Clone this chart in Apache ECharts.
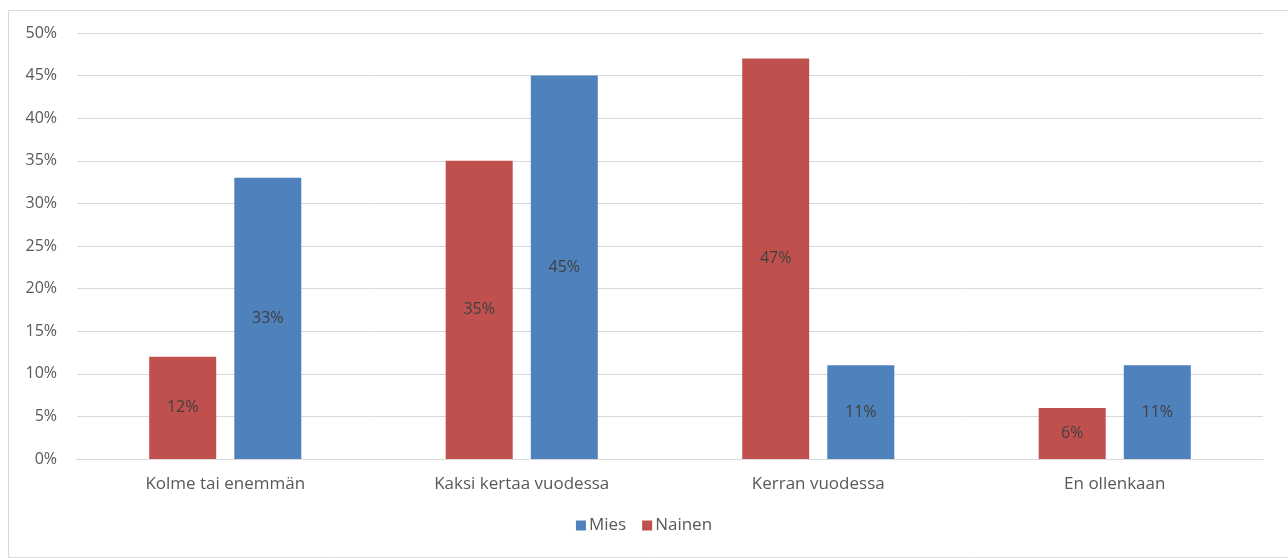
<!DOCTYPE html>
<html>
<head>
<meta charset="utf-8">
<script src="https://cdn.jsdelivr.net/npm/echarts@6/dist/echarts.min.js"></script>
<style>
  html, body { margin: 0; padding: 0; background: #fff; }
  #chart { width: 1288px; height: 558px; }
</style>
</head>
<body>
<div id="chart"></div>
<script>
// kategoriat ja arvot (%)
var categories = ['Kolme tai enemmän', 'Kaksi kertaa vuodessa', 'Kerran vuodessa', 'En ollenkaan'];
var nainen = [12, 35, 47, 6];
var mies = [33, 45, 11, 11];
var yTicks = [0, 5, 10, 15, 20, 25, 30, 35, 40, 45, 50];

var font = '"Open Sans", "Noto Sans", sans-serif';
var textColor = '#595959';

function initECharts(el, options) {
  // eslint-disable-next-line
  var myEchart = echarts.init(el);
  myEchart.setOption(options);
  return myEchart;
}

var labelOpt = {
  show: true,
  position: 'inside',
  color: '#404040',
  fontFamily: font,
  fontSize: 16,
  formatter: function (p) { return p.value + '%'; }
};

var options = {
  animation: false,
  textStyle: { fontFamily: font },
  graphic: [{
    type: 'rect',
    left: 6,
    top: 8,
    shape: { width: 1290, height: 547 },
    style: { fill: 'none', stroke: '#d9d9d9', lineWidth: 1 },
    silent: true
  }],
  grid: { left: 77, right: 25, top: 33, bottom: 99 },
  legend: {
    data: ['Mies', 'Nainen'],
    bottom: 19,
    left: 'center',
    itemWidth: 10,
    itemHeight: 10,
    itemGap: 16,
    icon: 'rect',
    textStyle: { color: textColor, fontSize: 17, fontFamily: font, padding: [0, 0, 0, -2] }
  },
  xAxis: {
    type: 'category',
    data: categories,
    axisLine: { show: true, lineStyle: { color: '#d9d9d9' } },
    axisTick: { show: false },
    axisLabel: { color: textColor, fontSize: 17, fontFamily: font, margin: 17 }
  },
  yAxis: {
    type: 'value',
    min: yTicks[0],
    max: yTicks[yTicks.length - 1],
    interval: 5,
    axisLine: { show: false },
    axisTick: { show: false },
    splitLine: { lineStyle: { color: '#d9d9d9' } },
    axisLabel: {
      color: textColor, fontSize: 16, fontFamily: font, margin: 20,
      formatter: function (v) { return v + '%'; }
    }
  },
  series: [
    {
      name: 'Nainen',
      type: 'bar',
      data: nainen,
      barWidth: 67,
      barGap: '27%',
      itemStyle: { color: '#C0504D' },
      label: labelOpt
    },
    {
      name: 'Mies',
      type: 'bar',
      data: mies,
      barWidth: 67,
      itemStyle: { color: '#4F81BD' },
      label: labelOpt
    }
  ]
};

initECharts(document.getElementById('chart'), options);
</script>
</body>
</html>
